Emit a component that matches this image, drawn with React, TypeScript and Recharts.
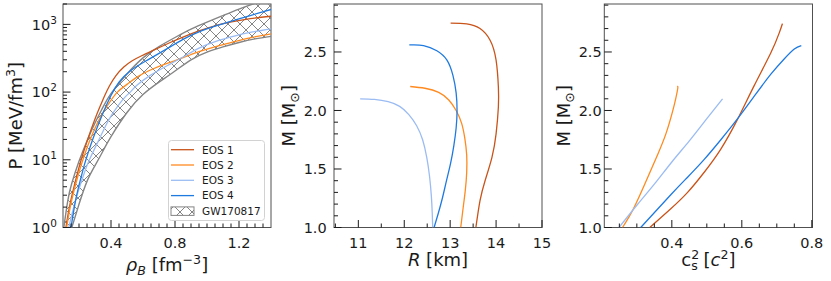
import React from "react";
import {
  ComposedChart,
  LineChart,
  Line,
  Area,
  XAxis,
  YAxis,
  Legend,
} from "recharts";

// ---- panel 1: pressure vs baryon density ----
const eos1Rho = [0.118, 0.14, 0.17, 0.2, 0.228, 0.26, 0.3, 0.33, 0.361, 0.39, 0.43, 0.48, 0.53, 0.595, 0.68, 0.77, 0.85, 0.95, 1.06, 1.17, 1.27, 1.4];
const eos1P = [1, 2, 4.1, 7.7, 12.9, 21.9, 40, 60, 89, 123, 174, 234, 288, 347, 430, 540, 650, 800, 970, 1110, 1220, 1320];

const eos2Rho = [0.123, 0.145, 0.175, 0.205, 0.234, 0.265, 0.31, 0.35, 0.39, 0.44, 0.5, 0.56, 0.643, 0.75, 0.85, 0.95, 1.06, 1.17, 1.27, 1.4];
const eos2P = [1, 2.0, 4.0, 7.2, 11.7, 18.6, 33, 50, 70, 100, 130, 165, 210, 265, 322, 395, 475, 555, 634, 725];

const eos3Rho = [0.136, 0.18, 0.234, 0.265, 0.3, 0.33, 0.37, 0.41, 0.475, 0.52, 0.56, 0.643, 0.75, 0.85, 0.95, 1.06, 1.17, 1.27, 1.4];
const eos3P = [1, 2.6, 6.5, 10, 15, 21, 33, 48, 78, 100, 125, 175, 245, 330, 445, 565, 670, 760, 860];

const eos4Rho = [0.15, 0.18, 0.21, 0.234, 0.255, 0.29, 0.35, 0.4, 0.45, 0.52, 0.62, 0.73, 0.85, 0.95, 1.06, 1.17, 1.27, 1.4];
const eos4P = [1, 2.6, 5.2, 8.5, 12.3, 21.4, 49, 89, 140, 205, 290, 410, 600, 776, 955, 1148, 1350, 1660];

// GW170817 band
const bandRho = [0.105, 0.13, 0.155, 0.2, 0.25, 0.3, 0.35, 0.4, 0.5, 0.6, 0.7, 0.8, 0.9, 1.0, 1.1, 1.2, 1.3, 1.4];
const bandLow = [0.4, 0.65, 1, 2.2, 4.8, 8.2, 13.5, 22, 50, 92, 140, 205, 300, 390, 465, 540, 610, 665];
const bandHigh = [1, 2.5, 4.5, 9.5, 19, 35, 60, 95, 185, 320, 470, 640, 850, 1080, 1350, 1680, 2050, 2450];

// ---- panel 2: mass vs radius ----
const eos1R = [13.01, 13.36, 13.65, 13.87, 14.0, 14.05, 14.05, 14.0, 13.91, 13.76, 13.65, 13.56];
const eos1M = [2.746, 2.74, 2.7, 2.6, 2.43, 2.2, 2.03, 1.8, 1.6, 1.4, 1.23, 1.0];
const eos2R = [12.13, 12.45, 12.75, 12.97, 13.13, 13.25, 13.32, 13.36, 13.36, 13.33, 13.28, 13.23];
const eos2M = [2.205, 2.19, 2.155, 2.09, 2.0, 1.89, 1.76, 1.62, 1.47, 1.32, 1.16, 1.0];
const eos3R = [11.04, 11.35, 11.65, 11.9, 12.1, 12.27, 12.4, 12.49, 12.55, 12.59, 12.61, 12.62];
const eos3M = [2.1, 2.095, 2.075, 2.035, 1.965, 1.87, 1.75, 1.6, 1.44, 1.27, 1.12, 1.0];
const eos4R = [12.11, 12.42, 12.71, 12.93, 13.06, 13.13, 13.15, 13.13, 13.08, 13.01, 12.92, 12.83, 12.74, 12.65];
const eos4M = [2.56, 2.555, 2.51, 2.43, 2.3, 2.15, 2.0, 1.85, 1.7, 1.55, 1.4, 1.25, 1.12, 1.0];

// ---- panel 3: mass vs central sound speed squared ----
const eos1Cs2 = [0.337, 0.397, 0.445, 0.492, 0.54, 0.588, 0.635, 0.683, 0.707, 0.716];
const eos1Mc = [1.0, 1.16, 1.3, 1.47, 1.67, 1.926, 2.21, 2.493, 2.663, 2.742];
const eos2Cs2 = [0.259, 0.292, 0.33, 0.359, 0.383, 0.402, 0.411, 0.417, 0.415];
const eos2Mc = [1.0, 1.17, 1.42, 1.62, 1.8, 1.99, 2.1, 2.19, 2.205];
const eos3Cs2 = [0.249, 0.3, 0.35, 0.4, 0.45, 0.5, 0.545];
const eos3Mc = [1.0, 1.19, 1.37, 1.56, 1.74, 1.93, 2.1];
const eos4Cs2 = [0.311, 0.397, 0.445, 0.492, 0.54, 0.588, 0.635, 0.683, 0.721, 0.75, 0.77];
const eos4Mc = [1.0, 1.28, 1.43, 1.58, 1.75, 1.93, 2.12, 2.31, 2.44, 2.525, 2.555];

// ---- ticks ----
const rhoTicks = [0.15, 0.2, 0.25, 0.3, 0.35, 0.4, 0.45, 0.5, 0.55, 0.6, 0.65, 0.7, 0.75, 0.8, 0.85, 0.9, 0.95, 1.0, 1.05, 1.1, 1.15, 1.2, 1.25, 1.3, 1.35];
const rhoMajor = [0.4, 0.8, 1.2];
const pTicks = [1, 2, 3, 4, 5, 6, 7, 8, 9, 10, 20, 30, 40, 50, 60, 70, 80, 90, 100, 200, 300, 400, 500, 600, 700, 800, 900, 1000, 2000];
const rTicks = [10.5, 11, 11.5, 12, 12.5, 13, 13.5, 14, 14.5, 15];
const rMajor = [11, 12, 13, 14, 15];
const mTicks = [1.0, 1.1, 1.2, 1.3, 1.4, 1.5, 1.6, 1.7, 1.8, 1.9, 2.0, 2.1, 2.2, 2.3, 2.4, 2.5, 2.6, 2.7, 2.8, 2.9];
const mMajor = [1.0, 1.5, 2.0, 2.5];
const csTicks = [0.25, 0.3, 0.35, 0.4, 0.45, 0.5, 0.55, 0.6, 0.65, 0.7, 0.75, 0.8];
const csMajor = [0.4, 0.6, 0.8];

const seriesNames = ["EOS 1", "EOS 2", "EOS 3", "EOS 4"];
const COLORS = ["#c9541a", "#ff8a1f", "#9bbcf3", "#1f7ae0"];

const FONT = "'DejaVu Sans', sans-serif";
const INK = "#1a1a1a";
const FRAME = "#505050";
const GREY = "#858585";
const LW = 1.3;
const TICK_BASE = 247.5;

const zip = (xs: number[], ys: number[]) => xs.map((x, i) => ({ x, y: ys[i] }));
const isIn = (v: number, list: number[]) => list.some((m) => Math.abs(m - v) < 1e-9);

const xTick = (bottom: number, majors: number[], fmt: (v: number) => string) => (props: any) => {
  const { x, payload } = props;
  const major = isIn(payload.value, majors);
  return (
    <g>
      <line x1={x} x2={x} y1={bottom} y2={bottom - (major ? 7.5 : 4)} stroke={INK} strokeWidth={1} />
      {major && (
        <text x={x} y={TICK_BASE} textAnchor="middle" fontSize={14.5} fontFamily={FONT} fill={INK}>
          {fmt(payload.value)}
        </text>
      )}
    </g>
  );
};

const yTick = (left: number, majors: number[], labelEnd: number) => (props: any) => {
  const { y, payload } = props;
  const major = isIn(payload.value, majors);
  return (
    <g>
      <line x1={left} x2={left + (major ? 7.5 : 4)} y1={y} y2={y} stroke={INK} strokeWidth={1} />
      {major && (
        <text x={labelEnd} y={y + 5.3} textAnchor="end" fontSize={14.5} fontFamily={FONT} fill={INK}>
          {payload.value.toFixed(1)}
        </text>
      )}
    </g>
  );
};

const yTickLog = (left: number, labelEnd: number) => (props: any) => {
  const { y, payload } = props;
  const lg = Math.log10(payload.value);
  const major = Math.abs(lg - Math.round(lg)) < 1e-9;
  return (
    <g>
      <line x1={left} x2={left + (major ? 7.5 : 4)} y1={y} y2={y} stroke={INK} strokeWidth={1} />
      {major && (
        <text x={labelEnd} y={y + 5.3} textAnchor="end" fontSize={14.5} fontFamily={FONT} fill={INK}>
          10<tspan dy={-6} fontSize={10.5}>{Math.round(lg)}</tspan>
        </text>
      )}
    </g>
  );
};

const hatchDef = (id: string) => (
  <pattern id={id} patternUnits="userSpaceOnUse" width={12} height={12}>
    <path d="M-1,-1 L13,13 M13,-1 L-1,13" stroke={GREY} strokeWidth={1} />
  </pattern>
);

function EosLegend() {
  const rowY = [9.7, 25, 40.3, 55.6, 70.9];
  return (
    <svg width={97} height={81} style={{ display: "block" }}>
      <defs>{hatchDef("gwHatchLegend")}</defs>
      <rect x={0.5} y={0.5} width={96} height={80} rx={3} fill="#fff" fillOpacity={0.85} stroke="#d2d2d2" />
      {seriesNames.map((name, i) => (
        <g key={name}>
          <line x1={3} x2={26} y1={rowY[i]} y2={rowY[i]} stroke={COLORS[i]} strokeWidth={LW} />
          <text x={34} y={rowY[i] + 3.8} fontSize={10.5} fontFamily={FONT} fill={INK}>{name}</text>
        </g>
      ))}
      <rect x={3} y={rowY[4] - 4} width={23} height={8.5} fill="url(#gwHatchLegend)" stroke={GREY} strokeWidth={1} />
      <text x={34} y={rowY[4] + 3.8} fontSize={10.5} fontFamily={FONT} fill={INK}>GW170817</text>
    </svg>
  );
}

const Y_W = 40;
const X_H = 30;

function PressurePanel() {
  const L = 63, R = 271, T = 4, B = 227.5, W = 280, H = 281;
  const band = bandRho.map((x, i) => ({ x, range: [bandLow[i], bandHigh[i]] }));
  const eos = [zip(eos1Rho, eos1P), zip(eos2Rho, eos2P), zip(eos3Rho, eos3P), zip(eos4Rho, eos4P)];
  return (
    <ComposedChart width={W} height={H} margin={{ top: T, right: W - R, left: L - Y_W, bottom: H - B - X_H }}>
      <defs>{hatchDef("gwHatch")}</defs>
      <XAxis type="number" dataKey="x" domain={[0.1, 1.4]} allowDataOverflow ticks={rhoTicks} interval={0}
        height={X_H} axisLine={false} tickLine={false} tick={xTick(B, rhoMajor, (v) => v.toFixed(1))} />
      <YAxis type="number" scale="log" domain={[1, 2000]} allowDataOverflow ticks={pTicks} interval={0}
        width={Y_W} axisLine={false} tickLine={false} tick={yTickLog(L, 57)} />
      <Area data={band} dataKey="range" type="natural" stroke="none" fill="url(#gwHatch)" fillOpacity={1} isAnimationActive={false} />
      <Line data={zip(bandRho, bandLow)} dataKey="y" type="natural" stroke={GREY} strokeWidth={1.4} dot={false} isAnimationActive={false} />
      <Line data={zip(bandRho, bandHigh)} dataKey="y" type="natural" stroke={GREY} strokeWidth={1.4} dot={false} isAnimationActive={false} />
      {eos.map((d, i) => (
        <Line key={i} data={d} dataKey="y" name={seriesNames[i]} type="natural" stroke={COLORS[i]} strokeWidth={LW} dot={false} isAnimationActive={false} />
      ))}
      <rect x={L} y={T} width={R - L} height={B - T} fill="none" stroke={FRAME} strokeWidth={1} />
      <text x={(L + R) / 2} y={270.5} textAnchor="middle" fontSize={18} fontFamily={FONT} fill={INK}>
        <tspan fontStyle="italic">ρ</tspan>
        <tspan dy={4} fontSize={12.6} fontStyle="italic">B</tspan>
        <tspan dy={-4}> [fm</tspan>
        <tspan dy={-7} fontSize={12.6}>−3</tspan>
        <tspan dy={7}>]</tspan>
      </text>
      <text x={22} y={(T + B) / 2} transform={`rotate(-90 22 ${(T + B) / 2})`} textAnchor="middle" fontSize={18} fontFamily={FONT} fill={INK}>
        P [MeV/fm<tspan dy={-7} fontSize={12.6}>3</tspan>
        <tspan dy={7}>]</tspan>
      </text>
      <Legend layout="horizontal" verticalAlign="middle" align="center"
        wrapperStyle={{ left: 168, top: 140, width: 97, height: 81 }} content={() => <EosLegend />} />
    </ComposedChart>
  );
}

// panels 2 and 3 start 10px left of their visible area so the rotated titles stay inside their svg
const PAD = 10;

function MassRadiusPanel() {
  const L = 54 + PAD, R = 262 + PAD, T = 4, B = 227.5, W = 275 + PAD, H = 281;
  const eos = [zip(eos1R, eos1M), zip(eos2R, eos2M), zip(eos3R, eos3M), zip(eos4R, eos4M)];
  return (
    <LineChart width={W} height={H} margin={{ top: T, right: W - R, left: L - Y_W, bottom: H - B - X_H }}>
      <XAxis type="number" dataKey="x" domain={[10.47, 15]} allowDataOverflow ticks={rTicks} interval={0}
        height={X_H} axisLine={false} tickLine={false} tick={xTick(B, rMajor, (v) => String(v))} />
      <YAxis type="number" domain={[1.0, 2.91]} allowDataOverflow ticks={mTicks} interval={0}
        width={Y_W} axisLine={false} tickLine={false} tick={yTick(L, mMajor, 46.7 + PAD)} />
      {eos.map((d, i) => (
        <Line key={i} data={d} dataKey="y" type="natural" stroke={COLORS[i]} strokeWidth={LW} dot={false} isAnimationActive={false} />
      ))}
      <rect x={L} y={T} width={R - L} height={B - T} fill="none" stroke={FRAME} strokeWidth={1} />
      <text x={(L + R) / 2} y={266} textAnchor="middle" fontSize={18} fontFamily={FONT} fill={INK}>
        <tspan fontStyle="italic">R</tspan> [km]
      </text>
      <text x={15 + PAD} y={(T + B) / 2} transform={`rotate(-90 ${15 + PAD} ${(T + B) / 2})`} textAnchor="middle" fontSize={18} fontFamily={FONT} fill={INK}>
        M [M<tspan dy={4} fontSize={12.6}>⊙</tspan>
        <tspan dy={-4}>]</tspan>
      </text>
    </LineChart>
  );
}

function SoundSpeedPanel() {
  const L = 49.3 + PAD, R = 257.5 + PAD, T = 4, B = 227.5, W = 276 + PAD, H = 281;
  const eos = [zip(eos1Cs2, eos1Mc), zip(eos2Cs2, eos2Mc), zip(eos3Cs2, eos3Mc), zip(eos4Cs2, eos4Mc)];
  return (
    <LineChart width={W} height={H} margin={{ top: T, right: W - R, left: L - Y_W, bottom: H - B - X_H }}>
      <XAxis type="number" dataKey="x" domain={[0.207, 0.802]} allowDataOverflow ticks={csTicks} interval={0}
        height={X_H} axisLine={false} tickLine={false} tick={xTick(B, csMajor, (v) => v.toFixed(1))} />
      <YAxis type="number" domain={[1.0, 2.91]} allowDataOverflow ticks={mTicks} interval={0}
        width={Y_W} axisLine={false} tickLine={false} tick={yTick(L, mMajor, 46.7 + PAD)} />
      {eos.map((d, i) => (
        <Line key={i} data={d} dataKey="y" type="natural" stroke={COLORS[i]} strokeWidth={LW} dot={false} isAnimationActive={false} />
      ))}
      <rect x={L} y={T} width={R - L} height={B - T} fill="none" stroke={FRAME} strokeWidth={1} />
      <text x={(L + R) / 2} y={266} textAnchor="middle" fontSize={18} fontFamily={FONT} fill={INK}>
        c<tspan dy={-7} fontSize={12.6}>2</tspan>
        <tspan dx={-8} dy={11} fontSize={12.6}>s</tspan>
        <tspan dy={-4}> [</tspan>
        <tspan fontStyle="italic">c</tspan>
        <tspan dy={-7} fontSize={12.6}>2</tspan>
        <tspan dy={7}>]</tspan>
      </text>
      <text x={15 + PAD} y={(T + B) / 2} transform={`rotate(-90 ${15 + PAD} ${(T + B) / 2})`} textAnchor="middle" fontSize={18} fontFamily={FONT} fill={INK}>
        M [M<tspan dy={4} fontSize={12.6}>⊙</tspan>
        <tspan dy={-4}>]</tspan>
      </text>
    </LineChart>
  );
}

export default function App() {
  return (
    <div style={{ position: "absolute", left: 0, top: 0, width: 831, height: 281, background: "#fff", fontFamily: FONT }}>
      <div style={{ position: "absolute", left: 0, top: 0 }}>
        <PressurePanel />
      </div>
      <div style={{ position: "absolute", left: 280 - PAD, top: 0 }}>
        <MassRadiusPanel />
      </div>
      <div style={{ position: "absolute", left: 555 - PAD, top: 0 }}>
        <SoundSpeedPanel />
      </div>
    </div>
  );
}
